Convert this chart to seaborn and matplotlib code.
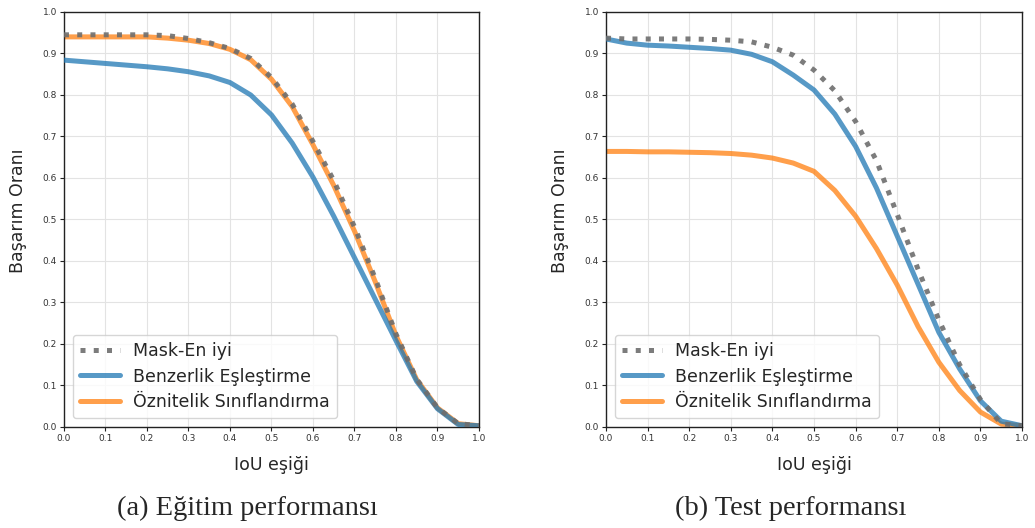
import matplotlib
matplotlib.use("Agg")
import matplotlib.pyplot as plt
import seaborn as sns

# IoU thresholds shared by every curve
iou = [0.0, 0.05, 0.1, 0.15, 0.2, 0.25, 0.3, 0.35, 0.4, 0.45, 0.5,
       0.55, 0.6, 0.65, 0.7, 0.75, 0.8, 0.85, 0.9, 0.95, 1.0]

# (a) training
train_mask_best = [0.945, 0.945, 0.945, 0.945, 0.945, 0.943, 0.936, 0.926, 0.912, 0.888, 0.842,
                   0.778, 0.688, 0.594, 0.482, 0.358, 0.224, 0.115, 0.046, 0.008, 0.003]
train_similarity = [0.884, 0.880, 0.876, 0.872, 0.868, 0.863, 0.856, 0.846, 0.830, 0.800, 0.752,
                    0.684, 0.602, 0.508, 0.408, 0.308, 0.208, 0.110, 0.044, 0.006, 0.003]
train_feature = [0.940, 0.940, 0.940, 0.940, 0.940, 0.937, 0.932, 0.924, 0.910, 0.885, 0.838,
                 0.772, 0.680, 0.582, 0.472, 0.350, 0.220, 0.114, 0.046, 0.008, 0.003]

# (b) test
test_mask_best = [0.937, 0.935, 0.935, 0.935, 0.935, 0.934, 0.932, 0.928, 0.915, 0.896, 0.860,
                  0.810, 0.736, 0.642, 0.512, 0.380, 0.258, 0.150, 0.066, 0.008, 0.003]
test_similarity = [0.935, 0.925, 0.920, 0.918, 0.915, 0.912, 0.908, 0.898, 0.880, 0.848, 0.812,
                   0.754, 0.676, 0.576, 0.460, 0.344, 0.228, 0.140, 0.063, 0.014, 0.003]
test_feature = [0.664, 0.664, 0.663, 0.663, 0.662, 0.661, 0.659, 0.655, 0.648, 0.636, 0.616,
                0.570, 0.508, 0.430, 0.342, 0.242, 0.156, 0.088, 0.036, 0.007, 0.003]

labels = ["Mask-En iyi", "Benzerlik Eşleştirme", "Öznitelik Sınıflandırma"]
ticks = [0.0, 0.1, 0.2, 0.3, 0.4, 0.5, 0.6, 0.7, 0.8, 0.9, 1.0]
captions = ["(a) Eğitim performansı", "(b) Test performansı"]

sns.set_style("whitegrid", {
    "axes.edgecolor": "#222222",
    "grid.color": "#e3e3e3",
    "xtick.bottom": True,
    "ytick.left": True,
})
plt.rcParams['font.family'] = ['DejaVu Sans']

fig = plt.figure(figsize=(10.35, 5.28), dpi=100)
ax_a = fig.add_axes([0.0618, 0.1913, 0.401, 0.786])
ax_b = fig.add_axes([0.5855, 0.1913, 0.402, 0.786])

panels = [
    (ax_a, train_mask_best, train_similarity, train_feature),
    (ax_b, test_mask_best, test_similarity, test_feature),
]

for ax, best, sim, feat in panels:
    # dotted reference drawn on top, but listed first in the legend
    sns.lineplot(x=iou, y=best, ax=ax, color="#6e6e6e", linestyle=":", linewidth=3.6,
                 alpha=0.9, label=labels[0], zorder=4)
    sns.lineplot(x=iou, y=sim, ax=ax, color="#1f77b4", linewidth=3.6,
                 alpha=0.75, label=labels[1], zorder=3)
    sns.lineplot(x=iou, y=feat, ax=ax, color="#ff7f0e", linewidth=3.6,
                 alpha=0.75, label=labels[2], zorder=2)

    ax.set_xlim(0, 1)
    ax.set_ylim(0, 1)
    ax.set_xticks(ticks)
    ax.set_yticks(ticks)
    ax.tick_params(labelsize=6.5, length=3, width=0.8, colors="#222222", labelcolor="#333333", pad=2)
    for s in ax.spines.values():
        s.set_color("#222222")
        s.set_linewidth(1.0)

    ax.set_xlabel("IoU eşiği", fontsize=12.5)
    ax.set_ylabel("Başarım Oranı", fontsize=12.5)
    ax.xaxis.set_label_coords(0.5, -0.07)
    ax.yaxis.set_label_coords(-0.09, 0.52)

    leg = ax.legend(loc="lower left", fontsize=12.5, handlelength=2.3, frameon=True,
                    borderaxespad=0.5, labelspacing=0.45)
    leg.get_frame().set_edgecolor("#cccccc")

fig.text(0.239, 0.038, captions[0], ha="center", va="center",
         fontsize=20.5, family=["Liberation Serif"])
fig.text(0.764, 0.038, captions[1], ha="center", va="center",
         fontsize=20.5, family=["Liberation Serif"])

fig.savefig("out.png", dpi=100)
